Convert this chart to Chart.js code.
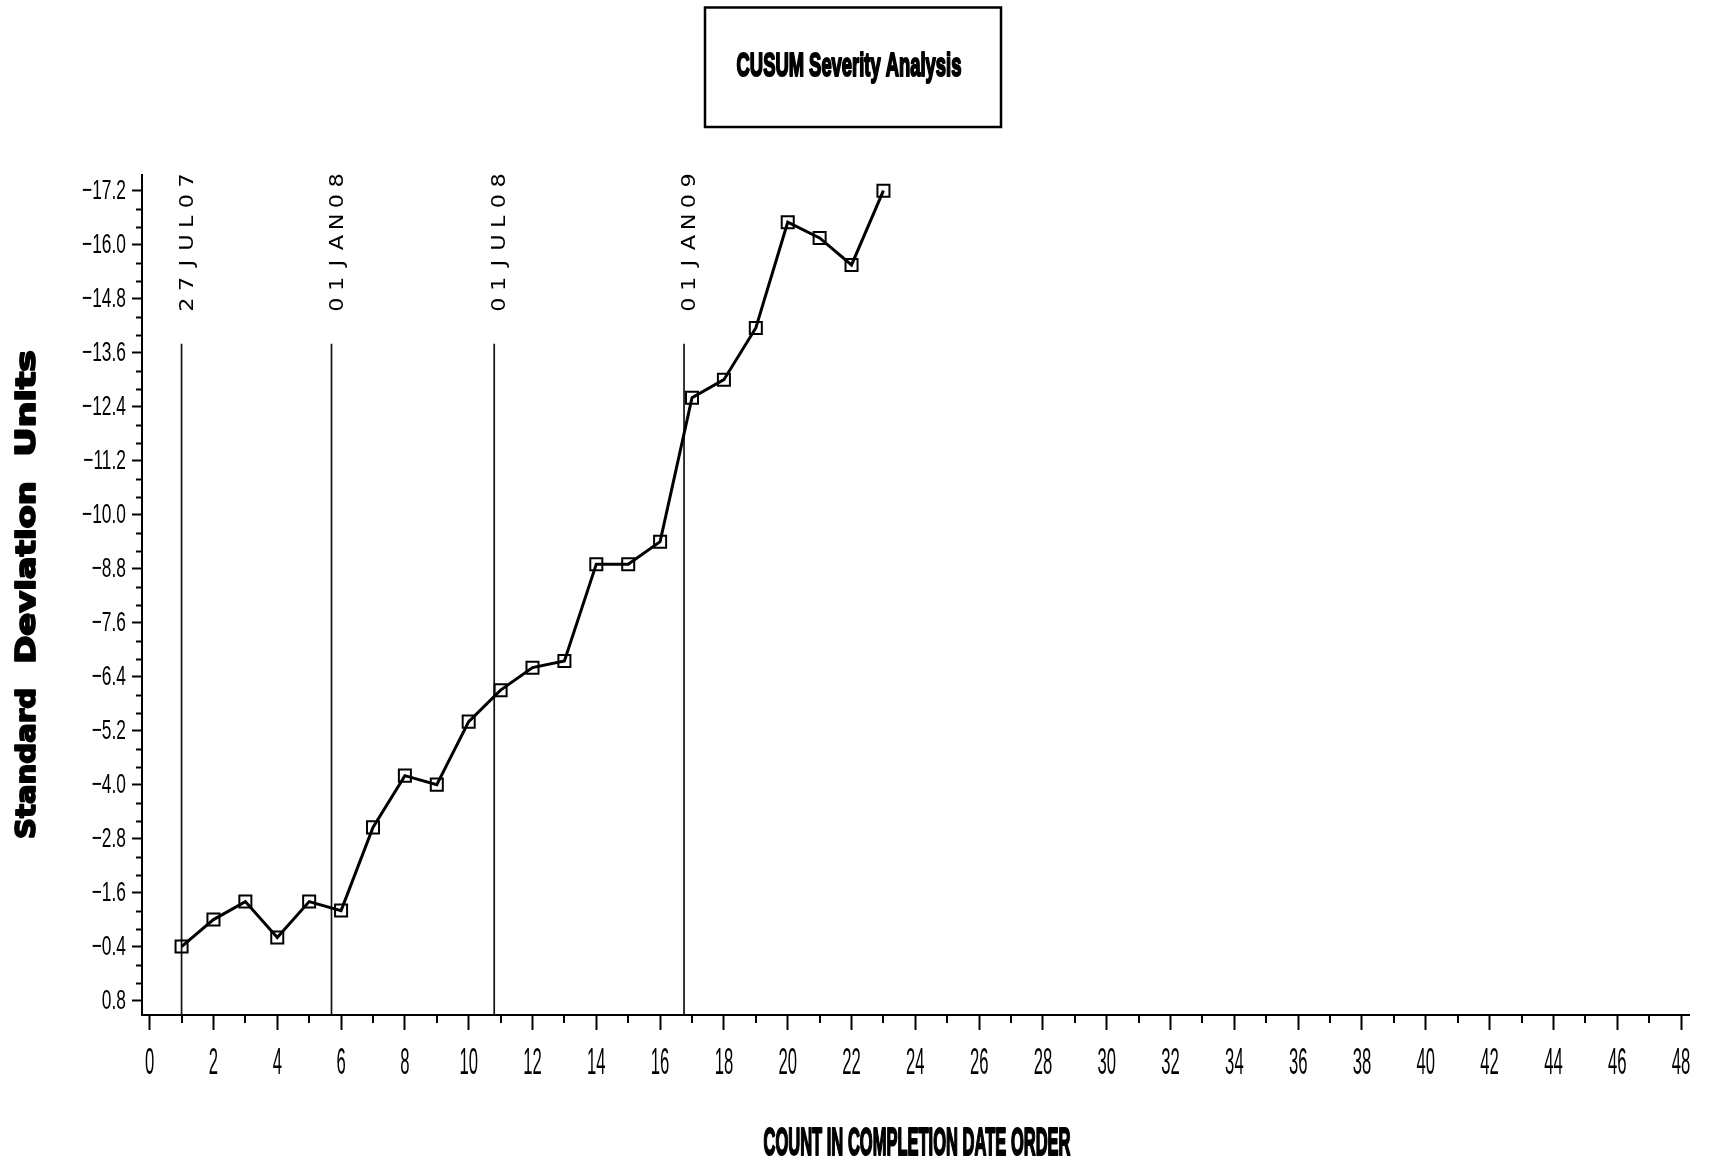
<!DOCTYPE html>
<html>
<head>
<meta charset="utf-8">
<title>CUSUM Severity Analysis</title>
<script src="https://cdn.jsdelivr.net/npm/chart.js@4.4.1/dist/chart.umd.min.js"></script>
<style>
  html, body { margin: 0; padding: 0; background: #fff; }
  canvas { display: block; }
</style>
</head>
<body>
<canvas id="cusum" width="1710" height="1163"></canvas>
<script>
// ---- data -------------------------------------------------------------
const counts = [1, 2, 3, 4, 5, 6, 7, 8, 9, 10, 11, 12, 13, 14, 15, 16, 17, 18, 19, 20, 21, 22, 23];
const cusum  = [-0.4, -1.0, -1.4, -0.6, -1.4, -1.2, -3.05, -4.2, -4.0, -5.4, -6.1, -6.6, -6.75,
                -8.9, -8.9, -9.4, -12.6, -13.0, -14.15, -16.5, -16.15, -15.55, -17.2];

// date reference lines (position on the count axis, and their labels)
const refPositions = [1.0, 5.7, 10.8, 16.75];
const refDates     = ['27JUL07', '01JAN08', '01JUL08', '01JAN09'];
const refLineTop   = -13.8;

// axis ticks
const yTickValues = [-17.2, -16.0, -14.8, -13.6, -12.4, -11.2, -10.0, -8.8, -7.6, -6.4, -5.2, -4.0, -2.8, -1.6, -0.4, 0.8];
const yTickLabels = ['\u221217.2', '\u221216.0', '\u221214.8', '\u221213.6', '\u221212.4', '\u221211.2', '\u221210.0',
                     '\u22128.8', '\u22127.6', '\u22126.4', '\u22125.2', '\u22124.0', '\u22122.8', '\u22121.6', '\u22120.4', '0.8'];
const xTickValues = [0, 2, 4, 6, 8, 10, 12, 14, 16, 18, 20, 22, 24, 26, 28, 30, 32, 34, 36, 38, 40, 42, 44, 46, 48];
const xTickLabels = ['0', '2', '4', '6', '8', '10', '12', '14', '16', '18', '20', '22', '24', '26', '28', '30',
                     '32', '34', '36', '38', '40', '42', '44', '46', '48'];

const chartTitle = 'CUSUM Severity Analysis';
const xTitle = 'COUNT IN COMPLETION DATE ORDER';
const yTitleWords = ['Standard', 'Deviation', 'Units'];

// ---- helpers ----------------------------------------------------------
const INK = '#000';

// condensed text: draw with a horizontal squeeze factor
function condensedText(ctx, text, x, y, font, sx, align, baseline) {
  ctx.save();
  ctx.translate(x, y);
  ctx.scale(sx, 1);
  ctx.font = font;
  ctx.textAlign = align;
  ctx.textBaseline = baseline;
  ctx.fillStyle = INK;
  ctx.fillText(text, 0, 0);
  ctx.restore();
}

// heavy text squeezed/stretched to an exact width, centred at cx
function fittedText(ctx, text, cx, y, font, width, weight) {
  ctx.save();
  ctx.font = font;
  const w = ctx.measureText(text).width + weight;
  const sx = width / w;
  ctx.translate(cx, y);
  ctx.scale(sx, 1);
  ctx.textAlign = 'center';
  ctx.textBaseline = 'alphabetic';
  ctx.fillStyle = INK;
  ctx.strokeStyle = INK;
  ctx.lineJoin = 'round';
  ctx.lineWidth = weight;
  ctx.fillText(text, 0, 0);
  if (weight > 0) ctx.strokeText(text, 0, 0);
  ctx.restore();
}

// minor tick values between the labelled y ticks (three intervals each)
function yMinorValues() {
  const out = [];
  for (let i = 0; i < yTickValues.length - 1; i++) {
    const a = yTickValues[i], b = yTickValues[i + 1];
    out.push(a + (b - a) / 3, a + 2 * (b - a) / 3);
  }
  return out;
}
function xMinorValues() {
  const out = [];
  for (let i = 0; i < xTickValues.length - 1; i++) out.push((xTickValues[i] + xTickValues[i + 1]) / 2);
  return out;
}

// ---- decorations drawn on top of the chart ---------------------------
const decorations = {
  id: 'decorations',
  afterDraw(chart) {
    const ctx = chart.ctx;
    const xs = chart.scales.x, ys = chart.scales.y;
    const area = chart.chartArea;

    // minor tick marks
    ctx.save();
    ctx.strokeStyle = INK;
    ctx.lineWidth = 2;
    ctx.beginPath();
    yMinorValues().forEach(v => {
      const py = Math.round(ys.getPixelForValue(v)) + 0.5;
      ctx.moveTo(area.left - 6, py);
      ctx.lineTo(area.left, py);
    });
    xMinorValues().forEach(v => {
      const px = Math.round(xs.getPixelForValue(v));
      ctx.moveTo(px, area.bottom);
      ctx.lineTo(px, area.bottom + 8);
    });
    ctx.stroke();
    ctx.restore();

    // tick labels
    yTickValues.forEach((v, i) => {
      condensedText(ctx, yTickLabels[i], area.left - 16, ys.getPixelForValue(v) + 1,
                    '28px "Liberation Sans", Arial, sans-serif', 0.62, 'right', 'middle');
    });
    xTickValues.forEach((v, i) => {
      condensedText(ctx, xTickLabels[i], xs.getPixelForValue(v), area.bottom + 49,
                    '37px "Liberation Sans", Arial, sans-serif', 0.45, 'center', 'middle');
    });

    // date labels above the reference lines, reading upwards
    refPositions.forEach((pos, i) => {
      const px = xs.getPixelForValue(pos);
      const top = ys.getPixelForValue(refLineTop);
      const chars = refDates[i].split('');
      ctx.save();
      ctx.translate(px + 11, top - 39);
      ctx.rotate(-Math.PI / 2);
      ctx.font = '20px "DejaVu Sans", sans-serif';
      ctx.fillStyle = INK;
      ctx.textAlign = 'center';
      ctx.textBaseline = 'alphabetic';
      chars.forEach((ch, k) => {
        ctx.save();
        ctx.translate(k * 20.7, 0);
        ctx.scale(1.12, 1);
        ctx.fillText(ch, 0, 0);
        ctx.restore();
      });
      ctx.restore();
    });

    // title box
    ctx.save();
    ctx.strokeStyle = INK;
    ctx.lineWidth = 2.5;
    ctx.strokeRect(705, 7.5, 296, 119.5);
    ctx.restore();
    fittedText(ctx, chartTitle, 849, 76, 'bold 34px "Liberation Sans", Arial, sans-serif', 226, 2.2);

    // axis titles
    fittedText(ctx, xTitle, 917, 1155, 'bold 39px "Liberation Sans", Arial, sans-serif', 308, 2.2);

    // y title: each word placed along the axis, reading upwards
    const wordSpans = [[687, 840], [480, 665], [349, 458]];
    yTitleWords.forEach((word, i) => {
      const [y0, y1] = wordSpans[i];
      ctx.save();
      ctx.translate(35, (y0 + y1) / 2);
      ctx.rotate(-Math.PI / 2);
      fittedText(ctx, word, 0, 0, 'bold 27px "DejaVu Sans", sans-serif', y1 - y0, 1.8);
      ctx.restore();
    });
  }
};

// ---- datasets ---------------------------------------------------------
const seriesData = counts.map((c, i) => ({ x: c, y: cusum[i] }));

const refDatasets = refPositions.map(pos => ({
  data: [{ x: pos, y: 1.12 }, { x: pos, y: refLineTop }],
  borderColor: '#111',
  borderWidth: 1.7,
  pointRadius: 0,
  fill: false
}));

new Chart(document.getElementById('cusum'), {
  type: 'line',
  data: {
    datasets: [
      {
        label: 'CUSUM',
        data: seriesData,
        borderColor: INK,
        borderWidth: 3,
        tension: 0,
        fill: false,
        pointStyle: 'rect',
        pointRadius: 8.5,
        pointBorderWidth: 2,
        pointBorderColor: INK,
        pointBackgroundColor: 'rgba(0,0,0,0)'
      },
      ...refDatasets
    ]
  },
  options: {
    responsive: false,
    animation: false,
    devicePixelRatio: 1,
    layout: { padding: { left: 0, right: 21, top: 174.5, bottom: 0 } },
    plugins: {
      legend: { display: false },
      tooltip: { enabled: false },
      title: { display: false }
    },
    scales: {
      x: {
        type: 'linear',
        min: -0.24,
        max: 48.25,
        afterBuildTicks: s => { s.ticks = xTickValues.map(v => ({ value: v })); },
        afterFit: s => { s.height = 148; },
        grid: { display: true, drawOnChartArea: false, drawTicks: true, tickLength: 15, tickWidth: 2, tickColor: INK, color: INK },
        border: { display: true, color: INK, width: 2 },
        ticks: { display: false }
      },
      y: {
        type: 'linear',
        reverse: true,
        min: -17.56,
        max: 1.12,
        afterBuildTicks: s => { s.ticks = yTickValues.map(v => ({ value: v })); },
        afterFit: s => { s.width = 142; },
        grid: { display: true, drawOnChartArea: false, drawTicks: true, tickLength: 10, tickWidth: 2, tickColor: INK, color: INK },
        border: { display: true, color: INK, width: 2 },
        ticks: { display: false }
      }
    }
  },
  plugins: [decorations]
});
</script>
</body>
</html>
